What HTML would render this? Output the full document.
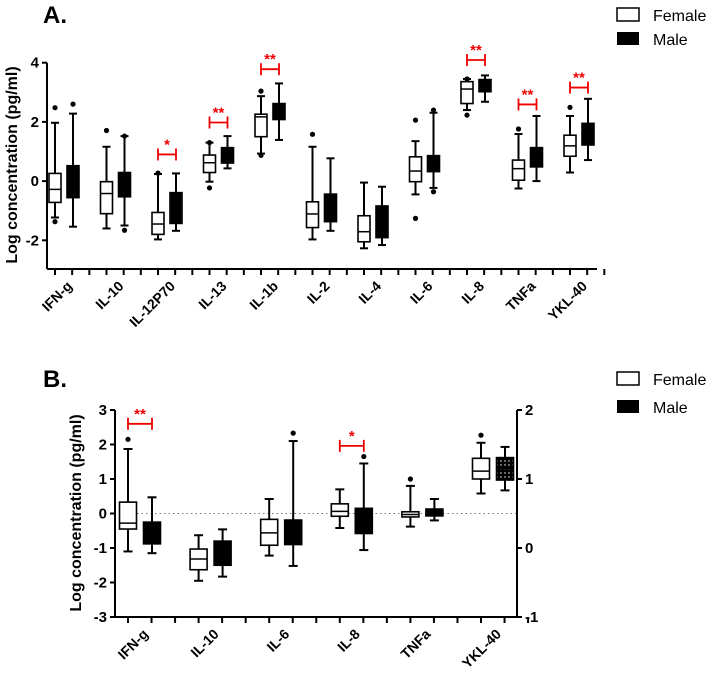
<!DOCTYPE html>
<html><head><meta charset="utf-8"><style>
html,body{margin:0;padding:0;background:#fff;width:708px;height:680px;overflow:hidden}
svg{font-family:"Liberation Sans",Arial,sans-serif}
</style></head><body>
<svg id="fig" width="708" height="680" viewBox="0 0 708 680" xmlns="http://www.w3.org/2000/svg">
<defs>
<pattern id="dots" width="4" height="4" patternUnits="userSpaceOnUse"><rect width="4" height="4" fill="#000"/><circle cx="1" cy="1" r="0.7" fill="#fff"/></pattern>
</defs>
<text x="43" y="23" font-size="24" font-weight="bold">A.</text>
<text x="43" y="387" font-size="24" font-weight="bold">B.</text>
<g>
<rect x="617" y="8" width="22" height="13" fill="#fff" stroke="#000" stroke-width="1.5"/>
<text x="653" y="21" font-size="16">Female</text>
<rect x="617" y="32" width="22" height="13" fill="#000"/>
<text x="653" y="45" font-size="16">Male</text>
</g>
<g>
<rect x="617" y="372" width="22" height="13" fill="#fff" stroke="#000" stroke-width="1.5"/>
<text x="653" y="385" font-size="16">Female</text>
<rect x="617" y="400" width="22" height="13" fill="#000"/>
<text x="653" y="413" font-size="16">Male</text>
</g>
<g id="pa"></g>
<g id="pb"></g>
</svg>
<script>
// Panel A data: [outlierHigh, whiskerHigh, Q3, median, Q1, whiskerLow, outlierLow]
const catsA = ["IFN-g","IL-10","IL-12P70","IL-13","IL-1b","IL-2","IL-4","IL-6","IL-8","TNFa","YKL-40"];
const femaleA = [
 [2.48,1.97,0.26,-0.28,-0.72,-1.23,-1.37],
 [1.71,1.16,-0.02,-0.42,-1.1,-1.6,null],
 [0.27,0.24,-1.06,-1.45,-1.8,-1.97,null],
 [1.3,1.3,0.88,0.62,0.29,-0.02,-0.23],
 [3.04,2.87,2.26,2.17,1.5,0.93,0.87],
 [1.58,1.16,-0.7,-1.11,-1.57,-1.97,null],
 [null,-0.05,-1.17,-1.71,-2.05,-2.27,null],
 [2.06,1.35,0.82,0.34,-0.02,-0.45,-1.26],
 [3.45,3.45,3.36,3.11,2.62,2.4,2.23],
 [1.76,1.59,0.71,0.42,0.03,-0.25,null],
 [2.49,2.2,1.55,1.19,0.84,0.29,null]];
const maleA = [
 [2.6,2.28,0.52,0,-0.56,-1.54,null],
 [1.52,1.52,0.29,-0.1,-0.53,-1.5,-1.66],
 [null,0.26,-0.39,-0.9,-1.43,-1.68,null],
 [null,1.52,1.13,0.9,0.61,0.43,null],
 [null,3.3,2.62,2.3,2.08,1.39,null],
 [null,0.77,-0.44,-0.9,-1.37,-1.68,null],
 [null,-0.19,-0.84,-1.4,-1.91,-2.16,null],
 [2.4,2.31,0.86,0.6,0.32,-0.23,-0.36],
 [null,3.57,3.43,3.2,3.02,2.68,null],
 [null,2.2,1.13,0.8,0.48,0,null],
 [null,2.78,1.95,1.6,1.22,0.71,null]];
const sigCatA = [2,3,4,8,9,10];
const sigYA = [0.9,1.98,3.78,4.09,2.59,3.16];
const sigLabelA = ["*","**","**","**","**","**"];
const yTicksA = [4,2,0,-2];

// Panel B data
const catsB = ["IFN-g","IL-10","IL-6","IL-8","TNFa","YKL-40"];
const femaleB = [
 [2.15,1.87,0.33,-0.28,-0.45,-1.1,null],
 [null,-0.63,-1.03,-1.32,-1.63,-1.95,null],
 [null,0.42,-0.17,-0.56,-0.92,-1.22,null],
 [null,0.7,0.28,0.06,-0.08,-0.42,null],
 [1.0,0.8,0.05,-0.03,-0.1,-0.38,null],
 [2.27,2.05,1.6,1.23,1.0,0.58,null]];
const maleB = [
 [null,0.47,-0.25,-0.55,-0.88,-1.15,null],
 [null,-0.46,-0.8,-1.2,-1.5,-1.83,null],
 [2.33,2.1,-0.19,-0.5,-0.9,-1.52,null],
 [1.65,1.45,0.15,-0.2,-0.58,-1.06,null],
 [null,0.42,0.13,0.03,-0.07,-0.2,null],
 [null,1.93,1.62,1.3,0.97,0.67,null]];
const sigCatB = [0,3];
const sigYB = [2.6,1.96];
const sigLabelB = ["**","*"];
const yTicksB = [3,2,1,0,-1,-2,-3];
const yTicksBRight = [2,1,0,-1];

const NS="http://www.w3.org/2000/svg";
function mk(parent,tag,attrs,txt){const e=document.createElementNS(NS,tag);for(const k in attrs)e.setAttribute(k,attrs[k]);if(txt!==undefined)e.textContent=txt;parent.appendChild(e);return e;}

function drawPanel(g,cfg){
  const y=v=>cfg.y0-v*cfg.sy;
  const xF=i=>cfg.x0+i*cfg.step;
  let ax=mk(g,'line',{x1:cfg.axL,y1:y(cfg.ymax),x2:cfg.axL,y2:cfg.axB,stroke:'#000','stroke-width':2});
  
  
  ax=mk(g,'line',{x1:cfg.axL,y1:cfg.axB,x2:cfg.axR,y2:cfg.axB,stroke:'#000','stroke-width':2});
  
  
  cfg.yTicks.forEach(t=>{
    mk(g,'line',{x1:cfg.axL-5,y1:y(t),x2:cfg.axL,y2:y(t),stroke:'#000','stroke-width':2});
    const tl=mk(g,'text',{x:cfg.axL-8,y:y(t)+5,'font-size':15,'font-weight':'bold','text-anchor':'end'},String(t));
    
    
  });
  const nT=cfg.cats.length*3;
  for(let k=0;k<nT;k++){const tx=cfg.x0+k*cfg.step/3;mk(g,'line',{x1:tx,y1:cfg.axB,x2:tx,y2:cfg.axB+6,stroke:'#000','stroke-width':2});}
  const yt=mk(g,'text',{x:0,y:0,'font-size':cfg.titleSize,'font-weight':'bold','text-anchor':'middle',transform:`translate(${cfg.titleX},${cfg.titleY}) rotate(-90)`},'Log concentration (pg/ml)');
  
  
  if(cfg.zeroLine){const zl=mk(g,'line',{x1:cfg.x0,y1:y(0),x2:cfg.axR,y2:y(0),stroke:'#777','stroke-width':1,'stroke-dasharray':'1.5,3'});
    
    }
  cfg.cats.forEach((c,i)=>{
    const xc=xF(i)+cfg.off/2;
    const lab=mk(g,'text',{x:0,y:0,'font-size':cfg.labSize,'font-weight':'bold','text-anchor':'end',transform:`translate(${xc+9},${cfg.axB+18}) rotate(-45)`},c);
    
    
    [[cfg.female[i],xF(i),'#fff','female'],[cfg.male[i],xF(i)+cfg.off,(cfg.patternLast&&i===cfg.cats.length-1)?'url(#dots)':'#000','male']].forEach(([d,x,fill,sex])=>{
      const bg=mk(g,'g',{});
      
      
      const w=cfg.bw,cw=cfg.cw;
      mk(bg,'line',{x1:x,y1:y(d[1]),x2:x,y2:y(d[5]),stroke:'#000','stroke-width':2});
      mk(bg,'line',{x1:x-cw/2,y1:y(d[1]),x2:x+cw/2,y2:y(d[1]),stroke:'#000','stroke-width':2});
      mk(bg,'line',{x1:x-cw/2,y1:y(d[5]),x2:x+cw/2,y2:y(d[5]),stroke:'#000','stroke-width':2});
      mk(bg,'rect',{x:x-w/2,y:y(d[2]),width:w,height:y(d[4])-y(d[2]),fill:fill,stroke:'#000','stroke-width':1.6});
      mk(bg,'line',{x1:x-w/2,y1:y(d[3]),x2:x+w/2,y2:y(d[3]),stroke:'#000','stroke-width':1.5});
      [d[0],d[6]].forEach(o=>{if(o!==null)mk(bg,'circle',{cx:x,cy:y(o),r:2.6,fill:'#000'});});
    });
  });
  cfg.sigCat.forEach((ci,j)=>{
    const sg=mk(g,'g',{});
    
    
    const x1=xF(ci),x2=xF(ci)+cfg.off,yy=y(cfg.sigY[j]);
    mk(sg,'line',{x1:x1,y1:yy,x2:x2,y2:yy,stroke:'#e00','stroke-width':1.8});
    mk(sg,'line',{x1:x1,y1:yy-6,x2:x1,y2:yy+6,stroke:'#e00','stroke-width':1.8});
    mk(sg,'line',{x1:x2,y1:yy-6,x2:x2,y2:yy+6,stroke:'#e00','stroke-width':1.8});
    mk(sg,'text',{x:(x1+x2)/2,y:yy-5,'font-size':15,'font-weight':'bold',fill:'#e00','text-anchor':'middle'},cfg.sigLabel[j]);
  });
  if(cfg.right){
    const r=cfg.right;
    const ry=v=>r.y0-v*r.sy;
    const ra=mk(g,'line',{x1:cfg.axR,y1:ry(2),x2:cfg.axR,y2:cfg.axB,stroke:'#000','stroke-width':2});
    
    
    r.ticks.forEach(t=>{
      mk(g,'line',{x1:cfg.axR,y1:ry(t),x2:cfg.axR+5,y2:ry(t),stroke:'#000','stroke-width':2});
      const tl=mk(g,'text',{x:cfg.axR+8,y:ry(t)+5,'font-size':15,'font-weight':'bold'},String(t));
      
      
    });
  }
}
drawPanel(document.getElementById('pa'),{cats:catsA,female:femaleA,male:maleA,sigCat:sigCatA,sigY:sigYA,sigLabel:sigLabelA,yTicks:yTicksA,
  y0:181.1,sy:29.6,ymax:4,x0:55,step:51.5,off:18,bw:12,cw:8,axL:47,axR:597,axB:269,titleX:17,titleY:165,titleSize:16,labSize:14});
drawPanel(document.getElementById('pb'),{cats:catsB,female:femaleB,male:maleB,sigCat:sigCatB,sigY:sigYB,sigLabel:sigLabelB,yTicks:yTicksB,
  y0:513.5,sy:34.5,ymax:3,x0:128,step:70.6,off:24,bw:17,cw:9,axL:115,axR:517,axB:617,titleX:81,titleY:513,titleSize:16,labSize:14,zeroLine:true,patternLast:true,
  right:{y0:548,sy:69,ticks:yTicksBRight}});
</script>
</body></html>
